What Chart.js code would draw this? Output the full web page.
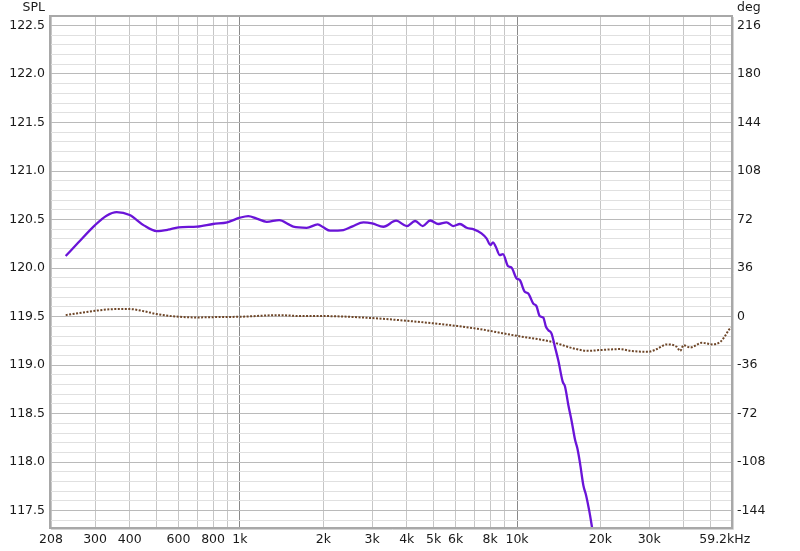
<!DOCTYPE html>
<html><head><meta charset="utf-8">
<script src="https://cdn.jsdelivr.net/npm/chart.js@4/dist/chart.umd.min.js"></script>
<style>html,body{margin:0;padding:0;background:#fff;}#wrap{width:800px;height:551px;position:relative}</style>
</head><body><div id="wrap"><canvas id="c" width="800" height="551"></canvas></div>
<script>
// SPL (left axis, dB) vs frequency (Hz)
const splFreq = [235,260,300,330,359,400,450,500,550,600,700,800,900,1000,1072,1150,1249,1387,1500,1558,1741,1909,2000,2115,2362,2550,2791,3000,3295,3660,4000,4289,4569,4859,5201,5568,5883,6222,6578,6983,7442,7760,8022,8197,8383,8665,8900,9279,9540,9963,10234,10664,10970,11432,11753,12080,12442,12720,12970,13315,13700,14090,14616,14900,15318,15754,16200,16520,16880,17360,17750,18250,18700];
const splValues = [120.124,120.258,120.443,120.54,120.577,120.546,120.44,120.381,120.395,120.42,120.426,120.454,120.471,120.519,120.536,120.51,120.477,120.495,120.45,120.426,120.415,120.45,120.42,120.385,120.392,120.43,120.47,120.46,120.426,120.488,120.433,120.485,120.433,120.49,120.454,120.471,120.433,120.454,120.415,120.399,120.358,120.306,120.237,120.265,120.22,120.134,120.144,120.02,120.007,119.894,119.876,119.756,119.74,119.636,119.608,119.505,119.49,119.395,119.36,119.327,119.19,119.05,118.83,118.78,118.59,118.42,118.23,118.14,117.99,117.76,117.66,117.49,117.31];
// Phase (right axis, degrees) vs frequency (Hz)
const phaseFreq = [235,300,357,400,450,500,600,700,850,1000,1400,1650,2000,3000,4000,5000,6000,7200,10000,13200,16000,18000,20000,23600,25600,29800,32000,34700,37700,38800,39900,42200,46500,50600,54200,56500,58100,59200];
const phaseValues = [1.1,4.3,5.6,5.6,4.0,1.9,-0.1,-0.6,-0.3,-0.1,1.1,0.4,0.4,-1.1,-3.1,-5.0,-6.8,-9.0,-14.3,-18.5,-23.6,-25.4,-24.8,-24.1,-25.4,-26.1,-24.0,-20.6,-22.4,-25.4,-21.2,-22.9,-19.4,-20.6,-18.7,-14.0,-10.0,-8.0];
// Tick definitions
const xTicks = [208,300,400,500,600,700,800,900,1000,2000,3000,4000,5000,6000,7000,8000,9000,10000,20000,30000,40000,50000,59200];
const xTickLabels = {208:'208',300:'300',400:'400',600:'600',800:'800',1000:'1k',2000:'2k',3000:'3k',4000:'4k',5000:'5k',6000:'6k',8000:'8k',10000:'10k',20000:'20k',30000:'30k',59200:'59.2kHz\u2002\u2002'};
const degTicks = [-144,-108,-72,-36,0,36,72,108,144,180,216];

const FONT = {family:'DejaVu Sans', size:12.5};
const TXT = '#1a1a1a';

const frame = {
  id:'frame',
  afterDraw(chart){
    const {ctx, chartArea:a} = chart;
    ctx.save();
    ctx.strokeStyle = '#a8a8a8'; ctx.lineWidth = 2;
    ctx.strokeRect(a.left-1, a.top-1, a.right-a.left+2, a.bottom-a.top+2);
    ctx.strokeStyle = '#d4d4d4'; ctx.lineWidth = 1;
    ctx.beginPath();
    ctx.moveTo(a.right+2.5, a.top); ctx.lineTo(a.right+2.5, a.bottom+2.5); ctx.lineTo(a.left, a.bottom+2.5);
    ctx.stroke();
    ctx.fillStyle = TXT;
    ctx.font = '12.5px "DejaVu Sans"';
    ctx.textBaseline = 'middle';
    ctx.textAlign = 'right'; ctx.fillText('SPL', 45, 8);
    ctx.textAlign = 'left'; ctx.fillText('deg', 737, 8);
    ctx.restore();
  }
};

new Chart(document.getElementById('c'), {
  type:'line',
  data:{datasets:[
    {label:'SPL', yAxisID:'y', order:0, data: splFreq.map((f,i)=>({x:f,y:splValues[i]})),
     borderColor:'#6a14d8', borderWidth:2.3, pointRadius:0, cubicInterpolationMode:'monotone', fill:false},
    {label:'Phase', yAxisID:'y2', order:1, data: phaseFreq.map((f,i)=>({x:f,y:phaseValues[i]})),
     borderColor:'#6e4628', borderWidth:2, borderDash:[2,1.5], pointRadius:0, cubicInterpolationMode:'monotone', fill:false}
  ]},
  options:{
    responsive:false, animation:false, devicePixelRatio:1,
    layout:{padding:{top:17,left:0,right:0,bottom:0}},
    plugins:{legend:{display:false}, tooltip:{enabled:false}},
    scales:{
      x:{type:'logarithmic', min:208, max:59200,
        afterBuildTicks:s=>{s.ticks = xTicks.map(v=>({value:v}));},
        afterFit:s=>{s.height=24;},
        ticks:{autoSkip:false, maxRotation:0, minRotation:0, padding:5, color:TXT, font:FONT,
          callback:(v)=> xTickLabels[v] !== undefined ? xTickLabels[v] : ''},
        grid:{drawTicks:false, lineWidth:1,
          color:c=> (c.tick && (c.tick.value===1000||c.tick.value===10000)) ? '#8a8a8a' : '#c6c6c6'},
        border:{display:false}
      },
      y:{position:'left', min:117.332, max:122.587,
        afterBuildTicks:s=>{const t=[]; for(let k=1174;k<=1225;k++) t.push({value:k/10}); s.ticks=t;},
        afterFit:s=>{s.width=51;},
        ticks:{autoSkip:false, padding:6, color:TXT, font:FONT,
          callback:(v)=> (Math.round(v*10)%5===0) ? v.toFixed(1) : ''},
        grid:{drawTicks:false, lineWidth:1,
          color:c=> (c.tick && Math.round(c.tick.value*10)%5===0) ? '#bababa' : '#e0e0e0'},
        border:{display:false}
      },
      y2:{position:'right', min:-156.1, max:222.3,
        afterBuildTicks:s=>{s.ticks = degTicks.map(v=>({value:v}));},
        afterFit:s=>{s.width=69;},
        ticks:{autoSkip:false, padding:6, color:TXT, font:FONT, callback:v=>String(v)},
        grid:{display:false, drawTicks:false},
        border:{display:false}
      }
    }
  },
  plugins:[frame]
});
</script></body></html>
